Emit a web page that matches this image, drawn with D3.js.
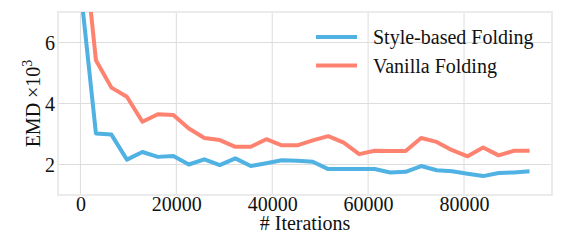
<!DOCTYPE html>
<html>
<head>
<meta charset="utf-8">
<script src="https://cdn.jsdelivr.net/npm/d3@7"></script>
<style>
  html, body { margin: 0; padding: 0; background: #fff; }
  svg text { font-family: "Liberation Serif", "DejaVu Serif", serif; fill: #111; }
</style>
</head>
<body>
<svg id="chart" width="581" height="244"></svg>
<script>
const iterations = [0, 3230, 6460, 9690, 12920, 16150, 19380, 22610, 25840, 29070,
  32300, 35530, 38760, 41990, 45220, 48450, 51680, 54910, 58140, 61370,
  64600, 67830, 71060, 74290, 77520, 80750, 83980, 87210, 90440, 93670];

const styleFolding = [7.8, 3.02, 2.98, 2.16, 2.41, 2.25, 2.28, 2.0, 2.17, 1.98,
  2.2, 1.95, 2.04, 2.14, 2.12, 2.09, 1.85, 1.85, 1.85, 1.85,
  1.74, 1.76, 1.95, 1.81, 1.78, 1.70, 1.62, 1.72, 1.74, 1.78];

const vanillaFolding = [10.3, 5.42, 4.52, 4.22, 3.40, 3.65, 3.62, 3.18, 2.87, 2.80,
  2.58, 2.58, 2.83, 2.63, 2.63, 2.79, 2.93, 2.72, 2.34, 2.45,
  2.44, 2.44, 2.87, 2.74, 2.47, 2.27, 2.56, 2.30, 2.45, 2.45];

const xTicks = [0, 20000, 40000, 60000, 80000];
const yTicks = [2, 4, 6];

const seriesList = [
  {name: 'Style-based Folding', values: styleFolding, color: '#50b1e3'},
  {name: 'Vanilla Folding', values: vanillaFolding, color: '#fd8270'}
];

const svg = d3.select('#chart');
const plotL = 58, plotR = 552, plotT = 12, plotB = 195;

const x = d3.scaleLinear().domain([-4680, 98350]).range([plotL, plotR]);
const y = d3.scaleLinear().domain([1, 7]).range([plotB, plotT]);

// clip for lines
svg.append('clipPath').attr('id', 'plot-clip')
  .append('rect')
  .attr('x', plotL).attr('y', plotT)
  .attr('width', plotR - plotL).attr('height', plotB - plotT);

// gridlines
const grid = svg.append('g').attr('class', 'grid');
grid.selectAll('line.gx').data(xTicks).join('line')
  .attr('class', 'gx')
  .attr('x1', d => x(d)).attr('x2', d => x(d))
  .attr('y1', plotT).attr('y2', plotB)
  .attr('stroke', '#dddddd').attr('stroke-width', 1);
grid.selectAll('line.gy').data(yTicks).join('line')
  .attr('class', 'gy')
  .attr('x1', plotL).attr('x2', plotR)
  .attr('y1', d => y(d)).attr('y2', d => y(d))
  .attr('stroke', '#dddddd').attr('stroke-width', 1);

// frame
svg.append('rect')
  .attr('x', plotL).attr('y', plotT)
  .attr('width', plotR - plotL).attr('height', plotB - plotT)
  .attr('fill', 'none')
  .attr('stroke', '#ebebeb')
  .attr('stroke-width', 2);

// axes (labels only, matplotlib style with no tick marks)
const xAxis = svg.append('g')
  .attr('transform', `translate(0,${plotB})`)
  .call(d3.axisBottom(x).tickValues(xTicks).tickFormat(d3.format('d')).tickSize(0).tickPadding(2));
const yAxis = svg.append('g')
  .attr('transform', `translate(${plotL},0)`)
  .call(d3.axisLeft(y).tickValues(yTicks).tickFormat(d3.format('d')).tickSize(0).tickPadding(3));
[xAxis, yAxis].forEach(ax => {
  ax.select('.domain').remove();
  ax.selectAll('text').attr('font-size', 20).attr('fill', '#111')
    .style('font-family', '"Liberation Serif", serif');
});
yAxis.selectAll('text').attr('dy', '0.35em');

// lines
const line = d3.line()
  .x((d, i) => x(iterations[i]))
  .y(d => y(d));

svg.append('g').attr('clip-path', 'url(#plot-clip)')
  .selectAll('path').data(seriesList).join('path')
  .attr('d', s => line(s.values))
  .attr('fill', 'none')
  .attr('stroke', s => s.color)
  .attr('stroke-width', 4)
  .attr('stroke-linejoin', 'round');

// axis titles
svg.append('text')
  .attr('x', (plotL + plotR) / 2).attr('y', 230)
  .attr('text-anchor', 'middle')
  .attr('font-size', 20)
  .text('# Iterations');

const yTitle = svg.append('text')
  .attr('transform', `translate(40,${(plotT + plotB) / 2}) rotate(-90)`)
  .attr('text-anchor', 'middle')
  .attr('font-size', 20);
yTitle.append('tspan').text('EMD \u00d710');
yTitle.append('tspan').attr('dy', -8).attr('font-size', 14).text('3');

// legend
const legend = svg.append('g').selectAll('g').data(seriesList).join('g')
  .attr('transform', (d, i) => `translate(316,${37 + i * 28.5})`);
legend.append('line')
  .attr('x1', 0).attr('x2', 41)
  .attr('stroke', d => d.color)
  .attr('stroke-width', 4);
legend.append('text')
  .attr('x', 57).attr('dy', '0.35em')
  .attr('font-size', 20)
  .text(d => d.name);
</script>
</body>
</html>
